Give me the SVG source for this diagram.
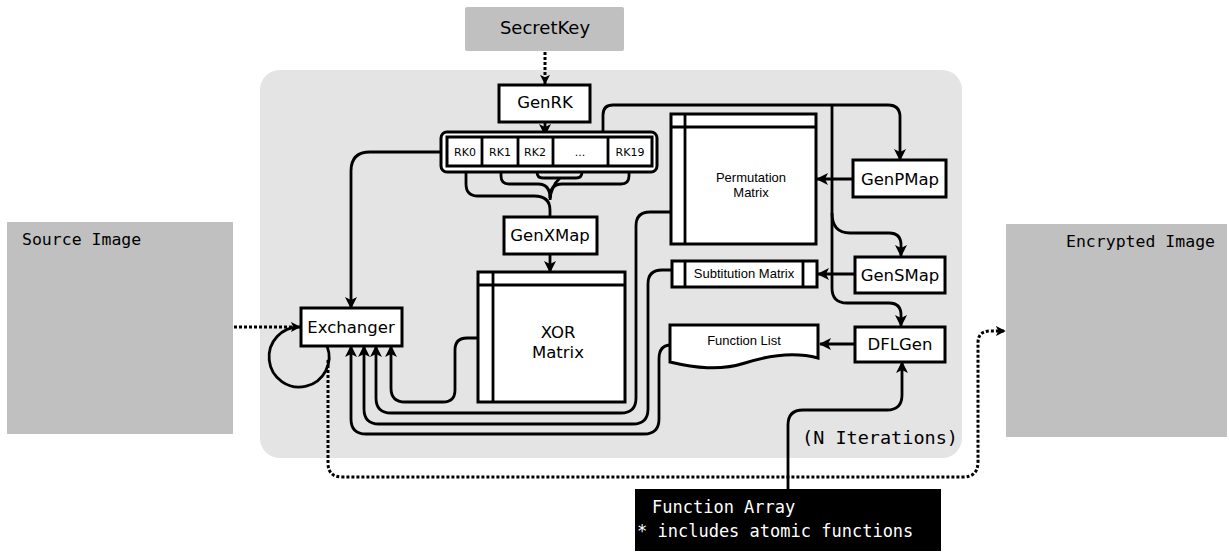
<svg xmlns="http://www.w3.org/2000/svg" width="1229" height="552" viewBox="0 0 1229 552">
<style>
.box{fill:#fff;stroke:#000;stroke-width:3}
.ln{fill:none;stroke:#000;stroke-width:2.8}
.dot{fill:none;stroke:#000;stroke-width:3;stroke-dasharray:3 2}
.t{font-family:"DejaVu Sans",sans-serif;font-size:16.5px;text-anchor:middle;fill:#000}
.s{font-family:"Liberation Sans",Arial,sans-serif;font-size:12.5px;text-anchor:middle;fill:#000}
.rk{font-family:"DejaVu Sans",sans-serif;font-size:11px;text-anchor:middle;fill:#000}
.m{font-family:"DejaVu Sans Mono",monospace;font-size:17px;fill:#000}
</style>
<defs>
<marker id="ah" viewBox="0 0 12 12" refX="11" refY="6" markerWidth="12" markerHeight="12" markerUnits="userSpaceOnUse" orient="auto">
<path d="M0,0 L12,6 L0,12 L3,6 Z" fill="#000"/>
</marker>
<marker id="ahs" viewBox="0 0 12 12" refX="11" refY="6" markerWidth="10" markerHeight="10" markerUnits="userSpaceOnUse" orient="auto">
<path d="M0,0 L12,6 L0,12 L3,6 Z" fill="#000"/>
</marker>
</defs>

<rect x="260" y="70" width="702" height="388" rx="20" fill="#e4e4e4"/>

<g id="source">
<rect x="7" y="222" width="226" height="212" fill="#c0c0c0"/>
<text class="m" x="22" y="245" style="font-size:16.5px">Source Image</text>
</g>
<g id="encrypted">
<rect x="1006" y="224" width="221" height="213" fill="#c0c0c0"/>
<text class="m" x="1066" y="247" style="font-size:16.5px">Encrypted Image</text>
</g>
<g id="secretkey">
<rect x="465" y="7" width="159" height="44" rx="2" fill="#c0c0c0"/>
<text class="t" x="545" y="34" style="font-size:18px">SecretKey</text>
</g>
<g id="niter">
<text class="m" x="802" y="444" style="font-size:18.5px">(N Iterations)</text>
</g>

<g id="connectors">
<path class="dot" d="M545 52 V84" marker-end="url(#ahs)"/>
<path class="ln" d="M545 122 V135" marker-end="url(#ah)"/>
<path class="ln" d="M466 166 V184 Q466 196 478 196 H534 Q550 196 550 210 V217"/>
<path class="ln" d="M501 166 V176 Q501 184 509 184 H538 Q550 184 550 198"/>
<path class="ln" d="M537 166 V172 Q537 178 543 178 H576 Q582 178 582 172 V166"/>
<path class="ln" d="M560 178 Q551 186 550 200"/>
<path class="ln" d="M629 166 V176 Q629 184 621 184 H562 Q550 184 550 198"/>
<path class="ln" d="M550 254 V272" marker-end="url(#ah)"/>
<path class="ln" d="M442 152 H370 Q351 152 351 171 V308" marker-end="url(#ah)"/>
<path class="ln" d="M603 132 V115 Q603 105 613 105 H888 Q900 105 900 117 V160" marker-end="url(#ah)"/>
<path class="ln" d="M832 105 V288 Q832 303 847 303 H889 Q901 303 901 315 V326" marker-end="url(#ah)"/>
<path class="ln" d="M832 213 Q832 233 850 233 H889 Q901 233 901 245 V256" marker-end="url(#ah)"/>
<path class="ln" d="M853 179 H817" marker-end="url(#ah)"/>
<path class="ln" d="M855 274 H818" marker-end="url(#ah)"/>
<path class="ln" d="M855 344 H820" marker-end="url(#ah)"/>
<path class="ln" d="M788 489 V425 Q788 410 803 410 H887 Q902 410 902 395 V362" marker-end="url(#ah)"/>
<path class="ln" d="M478 338 H467 Q455 338 455 350 V390 Q455 402 443 402 H405 Q391 402 391 388 V346" marker-end="url(#ah)"/>
<path class="ln" d="M671 212 H650 Q636 212 636 226 V398 Q636 413 621 413 H391 Q376 413 376 398 V346" marker-end="url(#ah)"/>
<path class="ln" d="M672 270 H662 Q648 270 648 284 V409 Q648 424 633 424 H379 Q364 424 364 409 V346" marker-end="url(#ah)"/>
<path class="ln" d="M671 345 H671 Q659 345 659 359 V419 Q659 434 644 434 H366 Q351 434 351 419 V346" marker-end="url(#ah)"/>
<path class="dot" d="M234 327 H300" marker-end="url(#ahs)"/>
<path class="ln" d="M327 346 A30 30 0 1 1 300 327"/>
<path class="dot" d="M328 360 V463 Q328 477 342 477 H963 Q978 477 978 462 V343 Q978 331 990 331 H1005" marker-end="url(#ahs)"/>
</g>

<g id="genrk">
<rect class="box" x="499" y="85" width="91" height="37"/>
<text class="t" x="545" y="108">GenRK</text>
</g>
<g id="rk">
<rect class="box" x="441" y="132" width="216" height="40" rx="6"/>
<rect class="box" x="447" y="137" width="205" height="29"/>
<path class="ln" d="M482 137 V166 M518 137 V166 M553 137 V166 M608 137 V166"/>
<text class="rk" x="465" y="156">RK0</text>
<text class="rk" x="500" y="156">RK1</text>
<text class="rk" x="535" y="156">RK2</text>
<text class="rk" x="580" y="156">...</text>
<text class="rk" x="630" y="156">RK19</text>
</g>
<g id="genxmap">
<rect class="box" x="504" y="217" width="93" height="37"/>
<text class="t" x="550" y="241">GenXMap</text>
</g>
<g id="xor">
<rect class="box" x="478" y="272" width="147" height="130"/>
<path class="ln" d="M493 272 V402 M478 285 H625"/>
<text class="t" x="558" y="338">XOR</text>
<text class="t" x="558" y="358">Matrix</text>
</g>
<g id="perm">
<rect class="box" x="671" y="114" width="145" height="130"/>
<path class="ln" d="M685 114 V244 M671 127 H816"/>
<text class="s" x="751" y="182" style="font-size:13px">Permutation</text>
<text class="s" x="751" y="197" style="font-size:13px">Matrix</text>
</g>
<g id="subst">
<rect class="box" x="672" y="261" width="145" height="26"/>
<path class="ln" d="M685 261 V287 M803 261 V287"/>
<text class="s" x="744" y="278" style="font-size:13px">Subtitution Matrix</text>
</g>
<g id="funclist">
<path class="box" d="M670 325 H818 V358 C795 352 770 355 745 363 C720 371 695 368 670 362 Z"/>
<text class="s" x="744" y="345" style="font-size:13px">Function List</text>
</g>
<g id="genpmap">
<rect class="box" x="853" y="160" width="93" height="37"/>
<text class="t" x="900" y="185">GenPMap</text>
</g>
<g id="gensmap">
<rect class="box" x="855" y="257" width="90" height="36"/>
<text class="t" x="900" y="281">GenSMap</text>
</g>
<g id="dflgen">
<rect class="box" x="855" y="327" width="90" height="35"/>
<text class="t" x="900" y="350">DFLGen</text>
</g>
<g id="exchanger">
<rect class="box" x="301" y="308" width="101" height="38"/>
<text class="t" x="351" y="333">Exchanger</text>
</g>
<g id="funcarray">
<rect x="635" y="489" width="306" height="62" fill="#000"/>
<text class="m" x="652" y="513" style="fill:#fff">Function Array</text>
<text class="m" x="637" y="537" style="fill:#fff">* includes atomic functions</text>
</g>
</svg>
